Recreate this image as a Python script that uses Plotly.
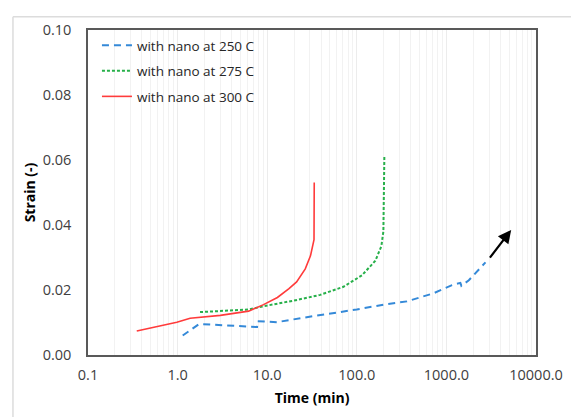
import plotly.graph_objects as go
import math

# ---- data ----
blue_t = [1.14, 1.71, 1.9, 7.7, 7.8, 12.8, 33, 100, 200, 363, 721, 1156, 1432, 1470, 1780, 2730]
blue_s = [0.0060, 0.0094, 0.0095, 0.0086, 0.0104, 0.0101, 0.0120, 0.0140, 0.0155, 0.0165,
          0.0190, 0.0215, 0.0222, 0.0213, 0.0230, 0.0285]

green_t = [1.78, 6.2, 9.1, 19.5, 39, 71, 114, 161, 188, 198, 203]
green_s = [0.0132, 0.0140, 0.0150, 0.0167, 0.0185, 0.0210, 0.0245, 0.0290, 0.0335, 0.0380, 0.0611]

red_t = [0.35, 0.64, 0.98, 1.38, 3.0, 6.2, 9.1, 13.0, 17.5, 21.3, 26.6, 30.4, 33.3, 33.5]
red_s = [0.0074, 0.0090, 0.0101, 0.0113, 0.0122, 0.0135, 0.0155, 0.0177, 0.0204, 0.0225, 0.0265,
         0.0305, 0.0355, 0.0531]

series_names = ["with nano at 250 C", "with nano at 275 C", "with nano at 300 C"]

arrow_tail = (2972, 0.0295)
arrow_head = (5285, 0.0385)

x_tickvals = [0.1, 1, 10, 100, 1000, 10000]
x_ticktext = ["0.1", "1.0", "10.0", "100.0", "1000.0", "10000.0"]
y_tickvals = [0.0, 0.02, 0.04, 0.06, 0.08, 0.10]

minor_vals = [m * 10 ** d for d in range(-1, 4) for m in range(2, 10)]

# ---- figure ----
fig = go.Figure()
fig.add_trace(go.Scatter(x=blue_t, y=blue_s, mode="lines", name=series_names[0], legendgroup="a",
                         line=dict(color="#3489d8", width=2, dash="7px,5px")))
fig.add_trace(go.Scatter(x=green_t, y=green_s, mode="lines", name=series_names[1], legendgroup="b",
                         line=dict(color="#27b04a", width=2, dash="3px,2px")))
fig.add_trace(go.Scatter(x=red_t, y=red_s, mode="lines", name=series_names[2], legendgroup="c",
                         line=dict(color="#ff3b3b", width=1.6)))

fig.add_annotation(x=math.log10(arrow_head[0]), y=arrow_head[1],
                   ax=math.log10(arrow_tail[0]), ay=arrow_tail[1],
                   xref="x", yref="y", axref="x", ayref="y",
                   text="", showarrow=True, arrowhead=2, arrowsize=1.2,
                   arrowwidth=2.2, arrowcolor="black")

# outer light frame of the screenshot
fig.add_shape(type="line", xref="paper", yref="paper", x0=-0.1675, x1=1.2, y0=1.041, y1=1.041,
              line=dict(color="#dcdcdc", width=1.5))
fig.add_shape(type="line", xref="paper", yref="paper", x0=-0.1675, x1=-0.1675, y0=-0.3, y1=1.041,
              line=dict(color="#dcdcdc", width=1.5))

tick_font = dict(family="Open Sans", size=14.5, color="#404040")
title_font = dict(family="Open Sans", size=14, color="black")

fig.update_xaxes(type="log", range=[-1, 4], tickvals=x_tickvals, ticktext=x_ticktext,
                 showgrid=True, gridcolor="#ececec", gridwidth=1,
                 minor=dict(tickvals=minor_vals, showgrid=True, gridcolor="#f2f2f2", gridwidth=1,
                            ticks=""),
                 showline=True, linecolor="#595959", linewidth=1.5, mirror=True,
                 ticks="outside", ticklen=6, tickcolor="rgba(0,0,0,0)", tickfont=tick_font,
                 title=dict(text="<b>Time (min)</b>", font=title_font, standoff=10),
                 zeroline=False)
fig.update_yaxes(range=[0, 0.1], tickvals=y_tickvals, tickformat=".2f",
                 showgrid=False, showline=True, linecolor="#595959", linewidth=1.5, mirror=True,
                 ticks="outside", ticklen=12, tickcolor="rgba(0,0,0,0)", tickfont=tick_font,
                 title=dict(text="<b>Strain (-)</b>", font=title_font, standoff=4),
                 zeroline=False)

fig.update_layout(
    width=571, height=409,
    margin=dict(l=80, r=43, t=14, b=62),
    paper_bgcolor="white", plot_bgcolor="white",
    font=dict(family="Open Sans", color="#404040"),
    legend=dict(x=0.02, y=1.0, xanchor="left", yanchor="top",
                bgcolor="rgba(0,0,0,0)", font=dict(family="Open Sans", size=13.5, color="#262626"),
                itemwidth=30, tracegroupgap=5),
)

fig.write_html("out.html")
